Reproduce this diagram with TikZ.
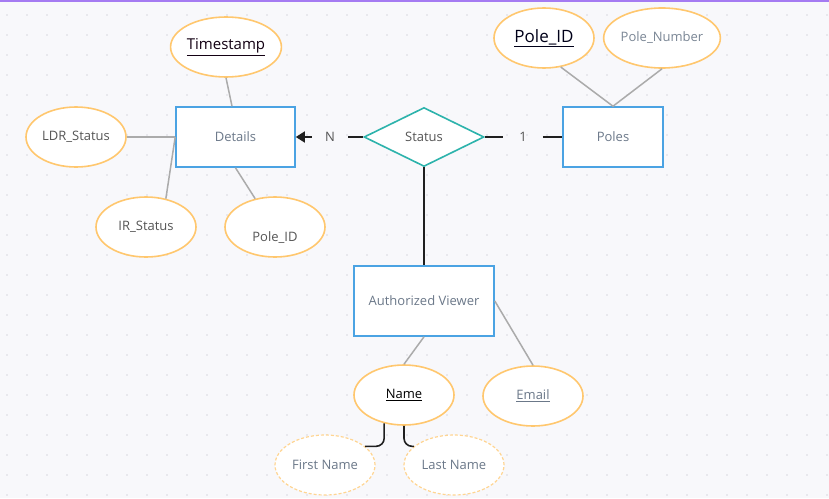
\documentclass[tikz,border=0pt]{standalone}
\usepackage{fontspec}
\setmainfont{Open Sans}
\usetikzlibrary{shapes.geometric,arrows.meta}

\definecolor{bgcol}{HTML}{F8F8FB}
\definecolor{dotcol}{HTML}{D9D9E0}
\definecolor{entblue}{HTML}{4BA3E3}
\definecolor{attorange}{HTML}{FFC76E}
\definecolor{reltea}{HTML}{2DB3AC}
\definecolor{enttext}{HTML}{6B7889}
\definecolor{atttext}{HTML}{555555}
\definecolor{attline}{HTML}{ABABAB}
\definecolor{topline}{HTML}{A57BF2}

\tikzset{
  entity/.style={draw=entblue, line width=1.6pt, fill=white, text=enttext,
    minimum width=119pt, minimum height=60pt, inner sep=0pt,
    font=\fontsize{13}{15}\selectfont},
  attrib/.style={ellipse, draw=attorange, line width=1.6pt, fill=white, text=atttext,
    minimum width=100pt, minimum height=60pt, inner sep=0pt,
    font=\fontsize{13}{15}\selectfont},
  partattrib/.style={attrib, draw=attorange!75, dashed, dash pattern=on 3pt off 2pt,
    line width=1.2pt, text=enttext},
  relation/.style={diamond, draw=reltea, line width=1.6pt, fill=white, text=atttext,
    minimum width=120pt, minimum height=59pt, inner sep=0pt,
    font=\fontsize{13}{15}\selectfont},
  card/.style={text=atttext, inner ysep=0pt, font=\fontsize{13}{15}\selectfont},
  attline/.style={draw=attline, line width=1.5pt},
  relline/.style={draw=black!88, line width=1.6pt}
}

\begin{document}
\begin{tikzpicture}[x=1pt, y=-1pt]
      % Draw the canvas
      \fill[bgcol] (0, 0) rectangle (829, 498);
      \useasboundingbox (0, 0) rectangle (829, 498);
      \foreach \i in {0,...,41}
        \foreach \j in {0,...,24}
          \fill[dotcol] (7+20*\i, 15+20*\j) circle (0.9pt);
      \draw[topline, line width=2pt] (0, 1) -- (829, 1);
      % Draw the entities
      \node[entity] (det) at (235.5, 137) {Details};
      \node[entity, minimum width=100pt] (pol) at (613, 137) {Poles};
      \node[entity, minimum width=140pt, minimum height=70pt] (av) at (424, 301) {Authorized Viewer};
      % Draw the relationship
      \node[relation] (st) at (424, 137) {Status};
      \node[card, inner xsep=13pt] (cn) at (330, 137) {N};
      \node[card, inner xsep=16pt] (c1) at (523, 137) {1};
      % Draw the attributes
      \node[attrib, text=black!85!violet, font=\fontsize{15}{17}\selectfont] (ts) at (226, 47) {\underline{Timestamp}};
      \node[attrib] (ldr) at (76, 137) {LDR\_Status};
      \node[attrib] (ir) at (146, 227) {IR\_Status};
      \node[attrib, text height=28pt, text depth=0pt] (pid) at (275, 227) {Pole\_ID};
      \node[attrib, text=black!90!blue, font=\fontsize{17}{19}\selectfont] (pk) at (544, 38) {\underline{Pole\_ID}};
      \node[attrib, text=enttext!90] (pn) at (662, 38) {Pole\_Number};
      \node[attrib, text=black] (nm) at (404, 395) {\underline{Name}};
      \node[attrib, text=enttext] (em) at (533, 396) {\underline{Email}};
      \node[partattrib] (fn) at (325, 465) {First Name};
      \node[partattrib] (ln) at (454, 465) {Last Name};
      % Draw the attribute links
      \draw[attline] (ts.south) -- ([xshift=-3.5pt]det.north);
      \draw[attline] (ldr.east) -- (det.west);
      \draw[attline] (ir.55) -- (det.west);
      \draw[attline] (pid.125) -- (det.south);
      \draw[attline] (pk.-60) -- (pol.north);
      \draw[attline] (pn.south) -- (pol.north);
      \draw[attline] (nm.north) -- (av.south);
      \draw[attline] (em.north) -- (av.east);
      % Draw the relationship links
      \draw[relline, -{Triangle[length=9pt, width=11pt]}] (cn.west) -- (det.east);
      \draw[relline] (st.west) -- (cn.east);
      \draw[relline] (st.east) -- (c1.west);
      \draw[relline] (c1.east) -- (pol.west);
      \draw[relline] (st.south) -- (av.north);
      \draw[relline, rounded corners=8pt] (nm.-125) |- (fn.25);
      \draw[relline, rounded corners=8pt] (nm.south) |- (ln.155);
    \end{tikzpicture}
\end{document}
